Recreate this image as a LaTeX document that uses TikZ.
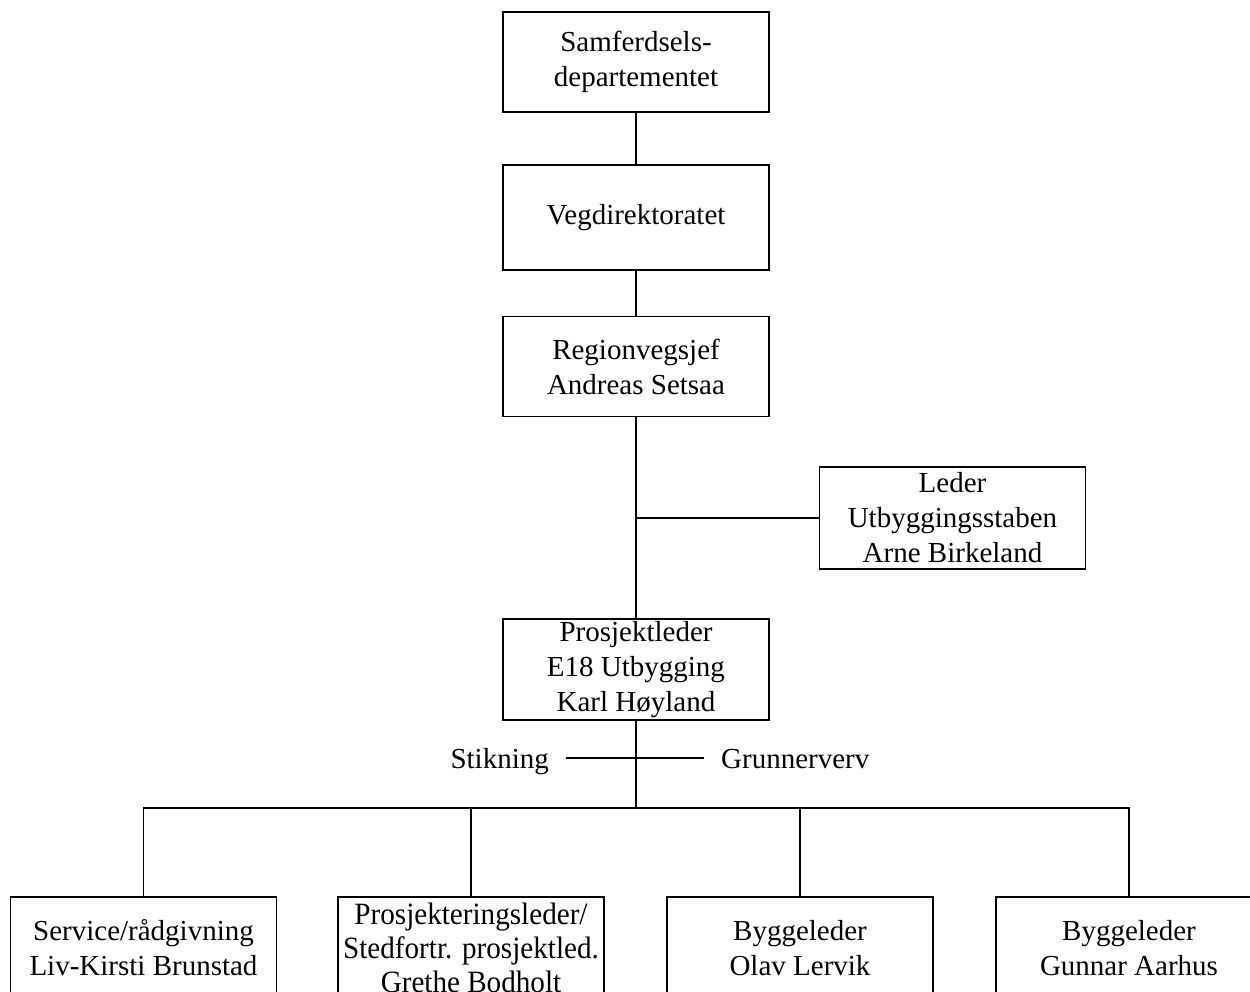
\documentclass[tikz,border=0pt]{standalone}
\usepackage{fontspec}
\setmainfont{Liberation Serif}
\newfontfamily\narrowfont[FakeStretch=0.94]{Liberation Serif}
\usepackage{tikz}
\usetikzlibrary{positioning}

\tikzset{
  orgbox/.style={draw, line width=1.3pt, minimum width=266pt, minimum height=100pt,
    align=center, inner sep=2pt, font=\fontsize{29}{35}\selectfont},
  lbl/.style={inner xsep=17pt, inner ysep=0pt, text height=20pt, text depth=0pt,
    font=\fontsize{29}{35}\selectfont},
  link/.style={line width=1.3pt}
}

\begin{document}
\begin{tikzpicture}[x=1pt, y=-1pt]
    \clip (0,0) rectangle (1250,992);

    % Chain from the ministry down
    \node[orgbox] (sd) at (636,62) {Samferdsels-\\departementet};
    \node[orgbox, minimum height=105pt] (vd) at (636,217.5) {Vegdirektoratet};
    \node[orgbox] (reg) at (636,366.5) {Regionvegsjef\\Andreas Setsaa};
    \node[orgbox, minimum height=102pt] (ldr) at (952.5,518) {Leder\\Utbyggingsstaben\\Arne Birkeland};
    \node[orgbox, minimum height=101pt] (prl) at (636,669.5) {Prosjektleder\\E18 Utbygging\\Karl Høyland};

    \draw[link] (sd) -- (vd);
    \draw[link] (vd) -- (reg);
    \draw[link] (reg) -- (prl);
    \draw[link] (ldr.west) -- (ldr.west -| reg.south);

    % Staff functions
    \node[lbl, anchor=east] (stik) at (566,758) {Stikning};
    \node[lbl, anchor=west] (grv) at (704,758) {Grunnerverv};
    \draw[link] (stik.east) -- (grv.west);

    % Bus to the four leaders
    \coordinate (bus) at (636,808);
    \draw[link] (prl.south) -- (bus);

    \node[orgbox, minimum height=102pt] (b1) at (143.5,948) {Service/rådgivning\\Liv-Kirsti Brunstad};
    \node[orgbox, minimum height=102pt, font=\narrowfont\fontsize{31}{34}\selectfont] (b2) at (471,948) {Prosjekteringsleder/\\Stedfortr. prosjektled.\\Grethe Bodholt};
    \node[orgbox, minimum height=102pt] (b3) at (800,948) {Byggeleder\\Olav Lervik};
    \node[orgbox, minimum height=102pt] (b4) at (1129,948) {Byggeleder\\Gunnar Aarhus};

    \foreach \b in {b1,b2,b3,b4}
        \draw[link] (bus) -| (\b.north);
\end{tikzpicture}
\end{document}
